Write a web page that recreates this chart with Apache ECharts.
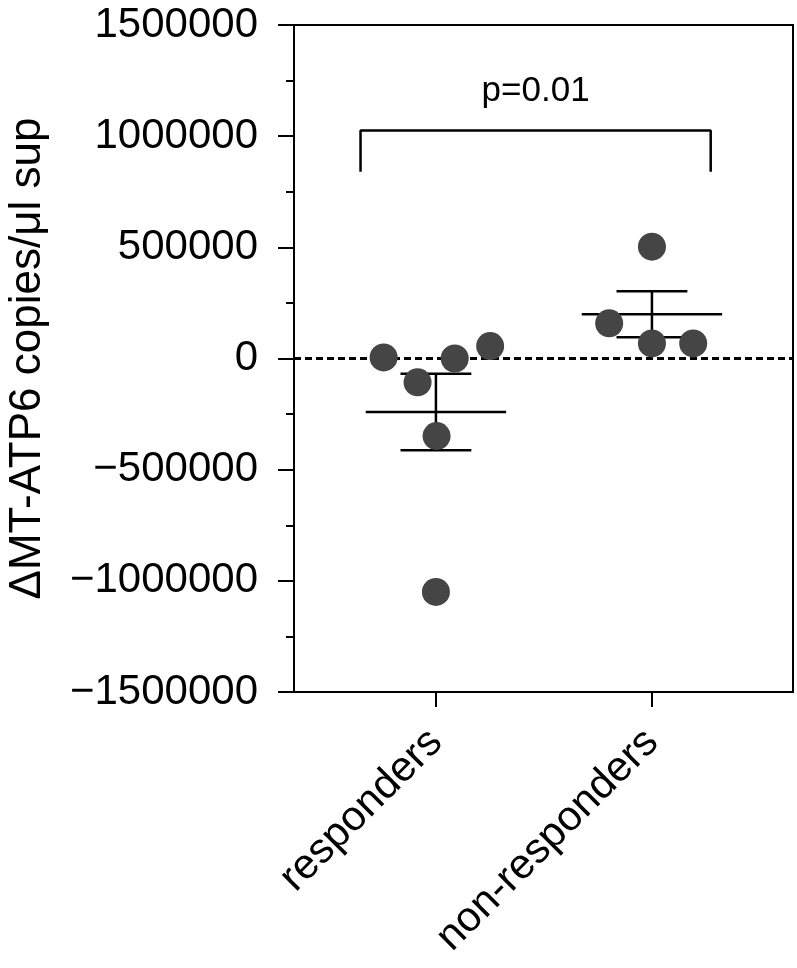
<!DOCTYPE html>
<html>
<head>
<meta charset="utf-8">
<script src="https://cdn.jsdelivr.net/npm/echarts@6/dist/echarts.min.js"></script>
<style>
html,body{margin:0;padding:0;background:#fff;}
#chart{width:797px;height:968px;}
</style>
</head>
<body>
<div id="chart"></div>
<script>
// ---- data ----
const categories = ['responders', 'non-responders'];
const responders = [5000, -107000, 0, 56000, -349000, -1050000];
const respondersJitter = [-0.242, -0.085, 0.087, 0.251, 0.003, 0.0];
const nonResponders = [503000, 158000, 68000, 68000];
const nonRespondersJitter = [0.0, -0.198, 0.0, 0.191];
const yTicks = [-1500000, -1000000, -500000, 0, 500000, 1000000, 1500000];
const bracketX = [0.651, 2.272];
const bracketY = [840000, 1025000];
const pText = 'p=0.01';
const pTextY = 1200000;

// ---- derived ----
function mean(a){return a.reduce((s,v)=>s+v,0)/a.length;}
function sem(a){const m=mean(a);const v=a.reduce((s,x)=>s+(x-m)*(x-m),0)/(a.length-1);return Math.sqrt(v/a.length);}
const groups = [responders, nonResponders];
const jitters = [respondersJitter, nonRespondersJitter];
const points = [];
groups.forEach((g,gi)=>g.forEach((v,i)=>points.push([gi+1+jitters[gi][i], v])));
const stats = groups.map((g,gi)=>[gi+1, mean(g), sem(g)]);

const xMin = 0.343, xMax = 2.653;
const FONT = '"Liberation Sans", Arial, Helvetica, sans-serif';

const chart = echarts.init(document.getElementById('chart'), null, {renderer:'canvas'});
chart.setOption({
  animation:false,
  backgroundColor:'#fff',
  grid:{left:294,right:4,top:25,bottom:276,containLabel:false,outerBoundsMode:'none',
    show:true,borderColor:'#000',borderWidth:2,backgroundColor:'transparent'},
  xAxis:{
    type:'value',min:xMin,max:xMax,
    splitLine:{show:false},
    axisLine:{show:true,onZero:false,lineStyle:{color:'#000',width:2}},
    axisTick:{show:true,customValues:[1,2],length:15,lineStyle:{color:'#000',width:2}},
    axisLabel:{show:true,customValues:[1,2],rotate:45,margin:44,color:'#000',fontSize:42,fontFamily:FONT,
      formatter:function(v){return categories[Math.round(v)-1]||'';}}
  },
  yAxis:{
    type:'value',min:-1500000,max:1500000,interval:500000,
    name:'ΔMT-ATP6 copies/μl sup',nameLocation:'middle',nameGap:244,
    nameTextStyle:{color:'#000',fontSize:44,fontFamily:FONT},
    splitLine:{show:false},
    axisLine:{show:true,onZero:false,lineStyle:{color:'#000',width:2}},
    axisTick:{show:true,length:16,lineStyle:{color:'#000',width:2}},
    minorTick:{show:true,splitNumber:2,length:8,lineStyle:{color:'#000',width:2}},
    axisLabel:{margin:36,color:'#000',fontSize:42,fontFamily:FONT,
      formatter:function(v){return v<0?'\u2212'+Math.abs(v):String(v);}}
  },
  series:[
    {
      type:'line',data:[[xMin,0],[xMax,0]],symbol:'none',silent:true,z:1,
      lineStyle:{color:'#000',width:3,type:[7,4]}
    },
    {
      type:'custom',z:2,data:stats,
      renderItem:function(params,api){
        const x=api.value(0), m=api.value(1), s=api.value(2);
        const halfMean=0.325, halfCap=0.164;
        const pA=api.coord([x-halfMean,m]), pB=api.coord([x+halfMean,m]);
        const top=api.coord([x,m+s]), bot=api.coord([x,m-s]);
        const c1=api.coord([x-halfCap,m+s]), c2=api.coord([x+halfCap,m+s]);
        const c3=api.coord([x-halfCap,m-s]), c4=api.coord([x+halfCap,m-s]);
        const st={stroke:'#000',lineWidth:2.5};
        return {type:'group',children:[
          {type:'line',shape:{x1:pA[0],y1:pA[1],x2:pB[0],y2:pB[1]},style:st},
          {type:'line',shape:{x1:top[0],y1:top[1],x2:bot[0],y2:bot[1]},style:st},
          {type:'line',shape:{x1:c1[0],y1:c1[1],x2:c2[0],y2:c2[1]},style:st},
          {type:'line',shape:{x1:c3[0],y1:c3[1],x2:c4[0],y2:c4[1]},style:st}
        ]};
      }
    },
    {
      type:'scatter',z:3,data:points,symbol:'circle',symbolSize:28,
      itemStyle:{color:'#454545',opacity:1}
    },
    {
      type:'line',z:2,symbol:'none',silent:true,
      data:[[bracketX[0],bracketY[0]],[bracketX[0],bracketY[1]],[bracketX[1],bracketY[1]],[bracketX[1],bracketY[0]]],
      lineStyle:{color:'#000',width:2.5}
    },
    {
      type:'scatter',z:3,symbolSize:1,itemStyle:{color:'rgba(0,0,0,0)',opacity:1},
      data:[[(bracketX[0]+bracketX[1])/2,pTextY]],
      label:{show:true,position:'inside',formatter:pText,color:'#000',opacity:1,fontSize:35,fontFamily:FONT}
    }
  ]
});
</script>
</body>
</html>
